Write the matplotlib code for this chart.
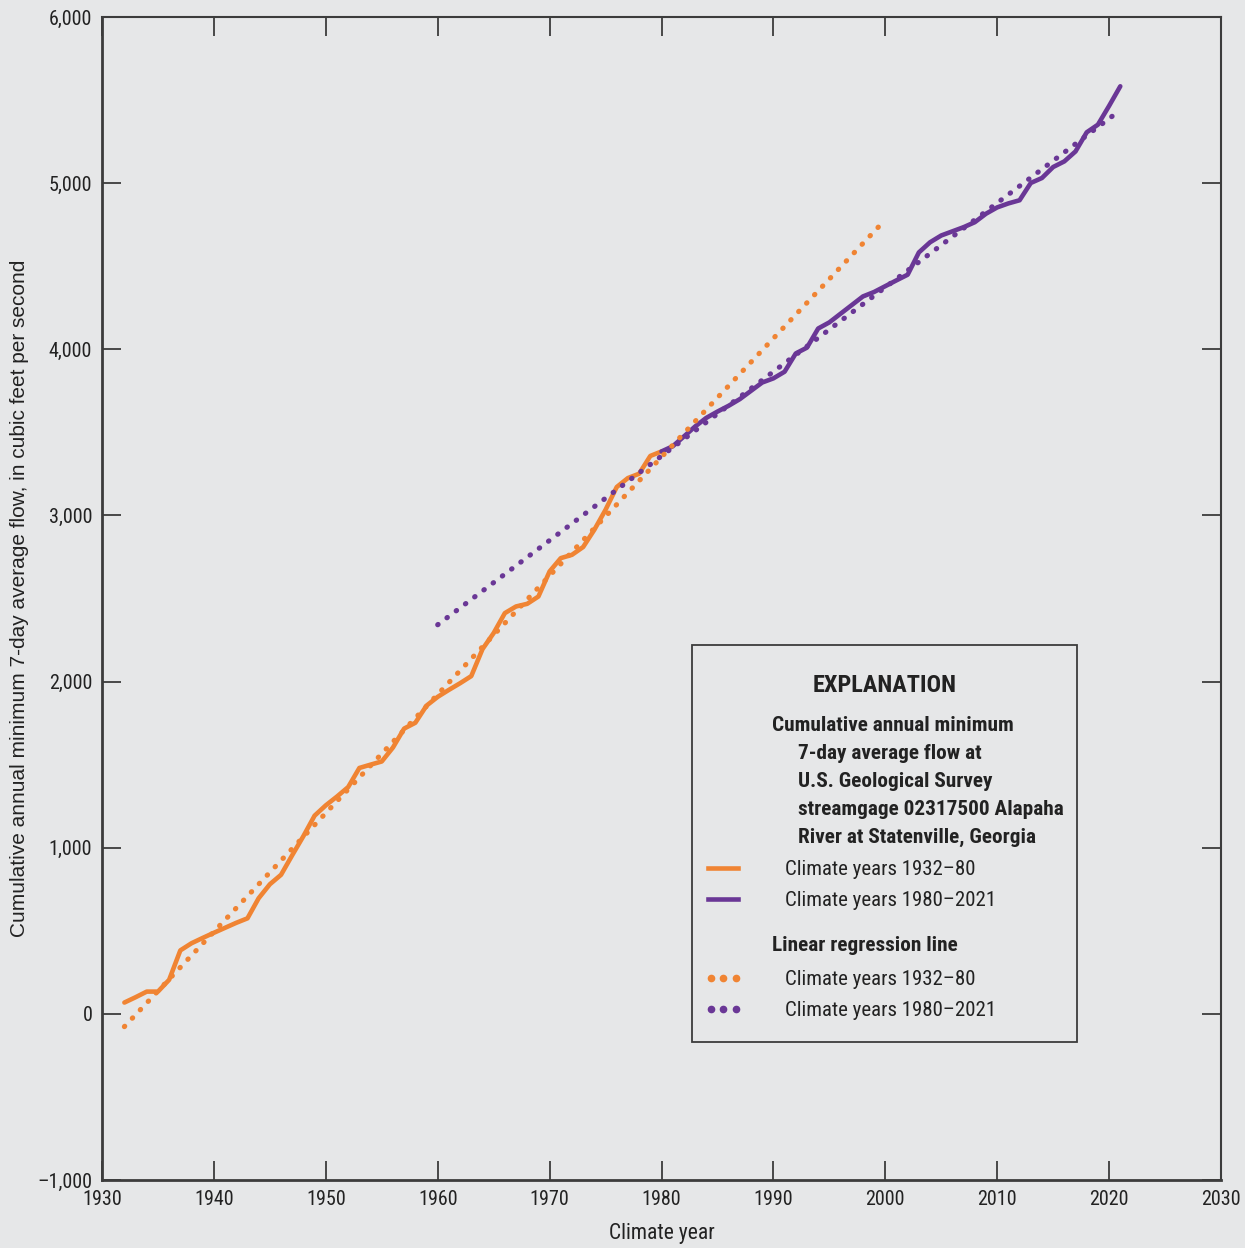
import matplotlib
matplotlib.use('Agg')
import matplotlib.pyplot as plt
from matplotlib import font_manager as fm
from matplotlib.lines import Line2D
from matplotlib.patches import Rectangle
from matplotlib.ticker import FuncFormatter, MultipleLocator

# --- данные ---
years_early = list(range(1932, 1981))
flow_early = [68, 100, 134, 134, 205, 382, 425, 457, 488, 518,
              548, 575, 696, 780, 837, 955, 1070, 1193, 1255, 1308,
              1365, 1480, 1500, 1519, 1603, 1717, 1752, 1855, 1908, 1950,
              1990, 2033, 2195, 2292, 2412, 2452, 2468, 2512, 2663, 2743,
              2763, 2810, 2914, 3034, 3171, 3225, 3251, 3358, 3385]

years_late = list(range(1980, 2022))
flow_late = [3385, 3416, 3475, 3535, 3587, 3625, 3660, 3700, 3750, 3800,
             3825, 3865, 3975, 4010, 4125, 4162, 4214, 4266, 4318, 4345,
             4380, 4415, 4449, 4583, 4644, 4685, 4710, 4735, 4765, 4816,
             4854, 4878, 4897, 5001, 5031, 5097, 5131, 5191, 5306, 5352,
             5465, 5583]

# линии регрессии: концы
reg_early_years = [1932, 2000]
reg_early_flow = [-77, 4780]
reg_late_years = [1960, 2020.5]
reg_late_flow = [2342, 5414]

ORANGE = '#F08433'
PURPLE = '#6A3796'
BG = '#E6E7E8'
DARK = '#3C3C3C'
TXT = '#222222'

# Узкий шрифт: ищем среди установленных
fonts = fm.fontManager.ttflist
names = {f.name for f in fonts}
NARROW, STRETCH, SCALE = ['Liberation Sans', 'DejaVu Sans'], 'normal', 0.9
for cand in ['Liberation Sans Narrow', 'Roboto Condensed', 'Open Sans Condensed',
             'DejaVu Sans Condensed', 'Noto Sans Condensed']:
    if cand in names:
        NARROW, STRETCH, SCALE = [cand, 'DejaVu Sans'], 'normal', 1.0
        break
else:
    for f in fonts:
        if f.name in ('DejaVu Sans', 'Noto Sans', 'Open Sans', 'Roboto') and \
                str(f.stretch) in ('condensed', 'semi-condensed', 'extra-condensed', '300', '400'):
            NARROW, STRETCH, SCALE = [f.name, 'DejaVu Sans'], 'condensed', 1.0
            break
WIDE = ['Liberation Sans', 'DejaVu Sans']

W, H = 1245, 1248
fig = plt.figure(figsize=(W / 100, H / 100), dpi=100, facecolor=BG)
ax = fig.add_axes([102 / W, 1 - 1180 / H, (1221 - 102) / W, (1180 - 17) / H])
ax.set_facecolor(BG)

dot_kw = dict(lw=3.7, linestyle=(0, (0.1, 2.15)), dash_capstyle='round')
line_kw = dict(lw=3.3, solid_capstyle='round', solid_joinstyle='round')

ax.plot(years_early, flow_early, color=ORANGE, **line_kw, zorder=3)
ax.plot(years_late, flow_late, color=PURPLE, **line_kw, zorder=3)
ax.plot(reg_early_years, reg_early_flow, color=ORANGE, **dot_kw, zorder=4)
ax.plot(reg_late_years, reg_late_flow, color=PURPLE, **dot_kw, zorder=4)

ax.set_xlim(1930, 2030)
ax.set_ylim(-1000, 6000)
ax.xaxis.set_major_locator(MultipleLocator(10))
ax.yaxis.set_major_locator(MultipleLocator(1000))
ax.yaxis.set_major_formatter(FuncFormatter(
    lambda v, p: ('\u2013' if v < 0 else '') + f'{abs(int(v)):,}'))

ax.tick_params(direction='in', length=14, width=1.3, color=DARK,
               top=True, right=True, labelsize=14.5 * SCALE, labelcolor=TXT)
ax.tick_params(axis='x', pad=7)
ax.tick_params(axis='y', pad=7)
for lab in ax.get_xticklabels() + ax.get_yticklabels():
    lab.set_family(NARROW)
    lab.set_stretch(STRETCH)
for side, sp in ax.spines.items():
    sp.set_color(DARK)
    sp.set_linewidth(2.0 if side in ('left', 'bottom') else 1.5)

ax.set_xlabel('Climate year', fontsize=15.5 * SCALE, family=NARROW, stretch=STRETCH,
              color=TXT, va='center')
ax.xaxis.set_label_coords(0.5, -(1233 - 1180) / 1163)
ax.set_ylabel('Cumulative annual minimum 7-day average flow, in cubic feet per second',
              fontsize=15, family=WIDE, color=TXT, va='center')
ax.yaxis.set_label_coords(-(102 - 20) / 1119, 0.5)


# --- пояснение (легенда), в пикселях картинки ---
def fx(x):
    return x / W


def fy(y):
    return 1 - y / H


fig.patches.append(Rectangle((fx(692), fy(1042)), fx(1077) - fx(692), fy(645) - fy(1042),
                             transform=fig.transFigure, facecolor=BG,
                             edgecolor=DARK, lw=1.3, zorder=5))

txt = dict(transform=fig.transFigure, color=TXT, va='baseline', zorder=6,
           family=NARROW, stretch=STRETCH)
fig.text(fx(885), fy(692), 'EXPLANATION', ha='center', fontsize=17.5 * SCALE,
         fontweight='bold', **txt)
head = [(772, 731, 'Cumulative annual minimum'),
        (798, 759, '7-day average flow at'),
        (798, 787, 'U.S. Geological Survey'),
        (798, 815, 'streamgage 02317500 Alapaha'),
        (798, 843, 'River at Statenville, Georgia'),
        (772, 951, 'Linear regression line')]
for x, y, s in head:
    fig.text(fx(x), fy(y), s, ha='left', fontsize=15.3 * SCALE, fontweight='bold', **txt)

rows = [(868, ORANGE, 'solid', 'Climate years 1932\u201380'),
        (899, PURPLE, 'solid', 'Climate years 1980\u20132021'),
        (978, ORANGE, 'dots', 'Climate years 1932\u201380'),
        (1009, PURPLE, 'dots', 'Climate years 1980\u20132021')]
for y, c, kind, s in rows:
    if kind == 'solid':
        fig.lines.append(Line2D([fx(708), fx(738)], [fy(y), fy(y)], color=c, lw=3.3,
                                transform=fig.transFigure, zorder=6))
    else:
        fig.lines.append(Line2D([fx(711), fx(723), fx(736)], [fy(y)] * 3, color=c,
                                linestyle='none', marker='o', markersize=4.5,
                                transform=fig.transFigure, zorder=6))
    fig.text(fx(785), fy(y + 7), s, ha='left', fontsize=15 * SCALE, **txt)

fig.savefig('out.png', dpi=100, facecolor=BG)
